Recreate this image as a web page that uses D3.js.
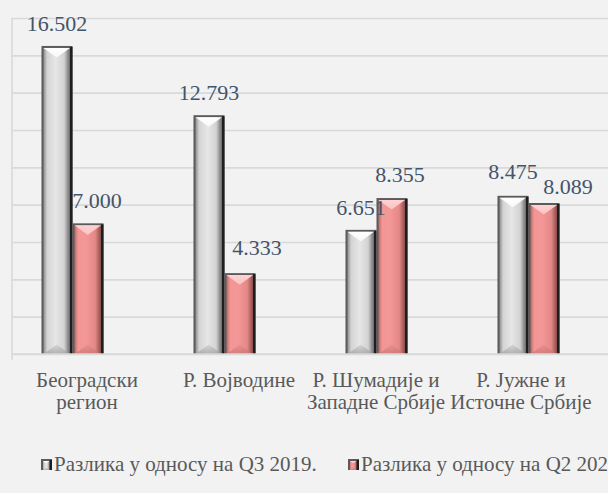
<!DOCTYPE html>
<html>
<head>
<meta charset="utf-8">
<script src="https://cdn.jsdelivr.net/npm/d3@7"></script>
<style>
  html, body { margin: 0; padding: 0; background: #f2f2f2; overflow: hidden; }
  svg { display: block; }
</style>
</head>
<body>
<svg id="chart" width="608" height="493"></svg>
<script>
// Regions and the two quarterly differences
const categories = ["Београдски регион", "Р. Војводине", "Р. Шумадије и Западне Србије", "Р. Јужне и Источне Србије"];
const categoryLines = [["Београдски", "регион"], ["Р. Војводине"], ["Р. Шумадије и", "Западне Србије"], ["Р. Јужне и", "Источне Србије"]];
const seriesNames = ["Разлика у односу на Q3 2019.", "Разлика у односу на Q2 2020."];
const valuesQ3 = [16.502, 12.793, 6.651, 8.475];
const valuesQ2 = [7.000, 4.333, 8.355, 8.089];

// label nudges (dx, dy) so neighbouring labels do not collide
const labelNudgeQ3 = [[0, 0], [0, 0], [0, 0], [0, -2]];
const labelNudgeQ2 = [[9, 0], [17, -3], [8, -1], [24, 6]];
const categoryNudge = [-1, -1, -16, -23];

const W = 608, H = 493;
const plotTop = 18, plotBottom = 354, axisX = 12, plotRight = 620;
const serif = "'Liberation Serif', 'Times New Roman', serif";

const svg = d3.select("#chart");
svg.append("rect").attr("width", W).attr("height", H).attr("fill", "#f2f2f2");

const defs = svg.append("defs");

const palettes = {
  gray: {
    border: "#5b5b5b", dark: "#1e1e1e",
    face: [["0%", "#8e8e8e"], ["14%", "#d4d4d4"], ["45%", "#e6e6e6"], ["78%", "#d2d2d2"], ["100%", "#6a6a6a"]],
    top: "#ffffff", bottom: "#9c9c9c"
  },
  pink: {
    border: "#5b5b5b", dark: "#1e1e1e",
    face: [["0%", "#b86a6a"], ["14%", "#f29696"], ["45%", "#f49696"], ["78%", "#e48888"], ["100%", "#8c4c4c"]],
    top: "#ffd2d2", bottom: "#c77474"
  }
};

Object.entries(palettes).forEach(([key, p]) => {
  const gf = defs.append("linearGradient").attr("id", "face-" + key)
    .attr("x1", "0").attr("y1", "0").attr("x2", "1").attr("y2", "0");
  p.face.forEach(([o, c]) => gf.append("stop").attr("offset", o).attr("stop-color", c));

  const gt = defs.append("linearGradient").attr("id", "top-" + key)
    .attr("x1", "0").attr("y1", "0").attr("x2", "0").attr("y2", "1");
  gt.append("stop").attr("offset", "0%").attr("stop-color", p.top).attr("stop-opacity", 1);
  gt.append("stop").attr("offset", "100%").attr("stop-color", p.top).attr("stop-opacity", 0.75);

  const gb = defs.append("linearGradient").attr("id", "bot-" + key)
    .attr("x1", "0").attr("y1", "0").attr("x2", "0").attr("y2", "1");
  gb.append("stop").attr("offset", "0%").attr("stop-color", p.bottom).attr("stop-opacity", 0.2);
  gb.append("stop").attr("offset", "100%").attr("stop-color", p.bottom).attr("stop-opacity", 0.7);
});

// bevelled bar: dark frame, shaded face, bright top chevron, shaded bottom chevron
function bevelBar(g, x, y, w, h, key) {
  const p = palettes[key];
  const bar = g.append("g");
  bar.append("rect").attr("x", x).attr("y", y).attr("width", w).attr("height", h).attr("fill", p.border);
  bar.append("rect").attr("x", x + w - 2.5).attr("y", y + 1).attr("width", 2.5).attr("height", h - 1).attr("fill", p.dark);
  const ix = x + 2, iy = y + 2, iw = w - 4.5, ih = h - 2;
  if (ih <= 0) return;
  bar.append("rect").attr("x", ix).attr("y", iy).attr("width", iw).attr("height", ih)
    .attr("fill", `url(#face-${key})`);
  const d = Math.min(iw * 0.36, ih / 2);
  bar.append("path")
    .attr("d", `M${ix},${iy}L${ix + iw},${iy}L${ix + iw / 2},${iy + d}Z`)
    .attr("fill", `url(#top-${key})`);
  bar.append("path")
    .attr("d", `M${ix},${iy + ih}L${ix + iw},${iy + ih}L${ix + iw / 2},${iy + ih - d}Z`)
    .attr("fill", `url(#bot-${key})`);
}

// each category holds three slots; the third one is left empty
const x = d3.scaleBand().domain(categories).range([axisX, plotRight]).paddingInner(0.388).paddingOuter(0.194);
const xs = d3.scaleBand().domain([0, 1, 2]).range([0, x.bandwidth()]);
const y = d3.scaleLinear().domain([0, 18]).range([plotBottom, plotTop]);

// gridlines
const grid = svg.append("g").attr("transform", `translate(${axisX},0)`)
  .call(d3.axisLeft(y).ticks(9).tickSize(-(W - axisX)).tickFormat(""));
grid.select(".domain").remove();
grid.selectAll(".tick line").attr("stroke", "#d9d9d9").attr("stroke-width", 1.6);

// vertical axis line
svg.append("line").attr("x1", axisX).attr("x2", axisX).attr("y1", plotTop).attr("y2", plotBottom + 6)
  .attr("stroke", "#d9d9d9").attr("stroke-width", 1.6);

const fmt = d3.format(".3f");
const series = [
  { values: valuesQ3, key: "gray", nudge: labelNudgeQ3 },
  { values: valuesQ2, key: "pink", nudge: labelNudgeQ2 }
];

const bars = svg.append("g");
series.forEach((s, si) => {
  s.values.forEach((v, i) => {
    const bx = x(categories[i]) + xs(si);
    const by = y(v);
    bevelBar(bars, bx, by, xs.bandwidth(), y(0) - by, s.key);
  });
});

// baseline on top of the bars
svg.append("line").attr("x1", axisX).attr("x2", W).attr("y1", plotBottom).attr("y2", plotBottom)
  .attr("stroke", "#d9d9d9").attr("stroke-width", 1.6);

// value labels
const labels = svg.append("g").attr("font-family", serif).attr("font-size", 22)
  .attr("fill", "#44546a").attr("text-anchor", "middle");
series.forEach((s, si) => {
  s.values.forEach((v, i) => {
    labels.append("text")
      .attr("x", x(categories[i]) + xs(si) + xs.bandwidth() / 2 + s.nudge[i][0])
      .attr("y", y(v) - 15 + s.nudge[i][1])
      .text(fmt(v));
  });
});

// category labels
const cats = svg.append("g").attr("font-family", serif).attr("font-size", 21)
  .attr("fill", "#595959").attr("text-anchor", "middle");
categories.forEach((c, i) => {
  const cx = x(c) + x.bandwidth() / 2 + categoryNudge[i];
  const t = cats.append("text").attr("x", cx).attr("y", 387);
  categoryLines[i].forEach((line, li) => {
    t.append("tspan").attr("x", cx).attr("dy", li === 0 ? 0 : 22).text(line);
  });
});

// legend (runs past the right edge)
const legendX = [41, 348];
const legend = svg.append("g");
seriesNames.forEach((name, i) => {
  bevelBar(legend, legendX[i], 459, 11, 11, i === 0 ? "gray" : "pink");
  legend.append("text").attr("x", legendX[i] + 13).attr("y", 471)
    .attr("font-family", serif).attr("font-size", 21).attr("fill", "#595959")
    .text(name);
});
</script>
</body>
</html>
